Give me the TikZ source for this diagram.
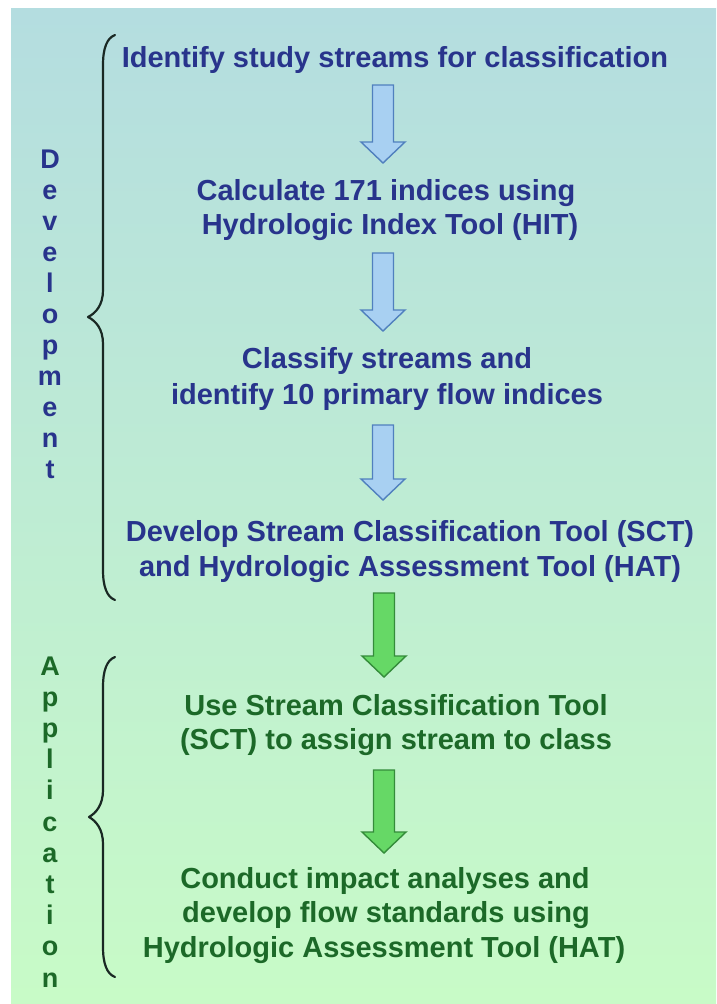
\documentclass[tikz,border=0pt]{standalone}
\usepackage{fontspec}
\setmainfont{Liberation Sans}
\usetikzlibrary{calc}

\definecolor{bgtop}{RGB}{180,221,224}
\definecolor{bgbot}{RGB}{200,251,199}
\definecolor{devtext}{RGB}{40,52,140}
\definecolor{apptext}{RGB}{28,105,40}
\definecolor{bluefill}{RGB}{168,208,242}
\definecolor{blueedge}{RGB}{80,128,190}
\definecolor{greenfill}{RGB}{102,216,102}
\definecolor{greenedge}{RGB}{52,140,58}
\definecolor{bracecol}{RGB}{25,40,35}

% block arrow from a start coordinate down to a tip coordinate
\newcommand\blockarrow[3]{%
  \path[#1] let \p1=(#2), \p2=(#3) in
    (\x1-10.5pt,\y1) -- (\x1+10.5pt,\y1) -- (\x1+10.5pt,\y2+21pt)
    -- (\x1+22pt,\y2+21pt) -- (\x2,\y2) -- (\x1-22pt,\y2+21pt)
    -- (\x1-10.5pt,\y2+21pt) -- cycle;}

\begin{document}
\begin{tikzpicture}[x=1pt,y=-1pt,
  steptext/.style={font=\bfseries\fontsize{29}{35}\selectfont, inner sep=0pt, anchor=base},
  devline/.style={steptext, text=devtext},
  appline/.style={steptext, text=apptext},
  sideletter/.style={font=\bfseries\fontsize{27}{31}\selectfont, inner sep=0pt, anchor=base},
  bracepath/.style={draw=bracecol, line width=2.2pt, line cap=round, line join=round},
  bluearrow/.style={fill=bluefill, draw=blueedge, line width=1.4pt, line join=miter},
  greenarrow/.style={fill=greenfill, draw=greenedge, line width=1.4pt, line join=miter}]

% page and gradient background
\fill[white] (0,0) rectangle (716,1004);
\useasboundingbox (0,0) rectangle (716,1004);
\fill[top color=bgtop, bottom color=bgbot] (11,8) rectangle (716,1004);

% development steps
\node[devline] (s1)  at (395,67)  {Identify study streams for classification};
\node[devline] (s2a) at (386,200) {Calculate 171 indices using};
\node[devline] (s2b) at (390,234) {Hydrologic Index Tool (HIT)};
\node[devline] (s3a) at (387,368) {Classify streams and};
\node[devline] (s3b) at (387,404) {identify 10 primary flow indices};
\node[devline] (s4a) at (410,541) {Develop Stream Classification Tool (SCT)};
\node[devline] (s4b) at (410,576) {and Hydrologic Assessment Tool (HAT)};

% application steps
\node[appline] (s5a) at (396,715) {Use Stream Classification Tool};
\node[appline] (s5b) at (396,749) {(SCT) to assign stream to class};
\node[appline] (s6a) at (385,888) {Conduct impact analyses and};
\node[appline] (s6b) at (386,922) {develop flow standards using};
\node[appline] (s6c) at (384,957) {Hydrologic Assessment Tool (HAT)};

% arrow end points
\coordinate (a1s) at (383,85);  \coordinate (a1e) at (383,163);
\coordinate (a2s) at (383,253); \coordinate (a2e) at (383,331);
\coordinate (a3s) at (383,425); \coordinate (a3e) at (383,500);
\coordinate (g1s) at (384,593); \coordinate (g1e) at (384,677);
\coordinate (g2s) at (384,770); \coordinate (g2e) at (384,853);

\blockarrow{bluearrow}{a1s}{a1e}
\blockarrow{bluearrow}{a2s}{a2e}
\blockarrow{bluearrow}{a3s}{a3e}
\blockarrow{greenarrow}{g1s}{g1e}
\blockarrow{greenarrow}{g2s}{g2e}

% vertical phase labels
\foreach \ch [count=\i] in {D,e,v,e,l,o,p,m,e,n,t}
  \node[sideletter, text=devtext] (dev\i) at (50,{168+31*(\i-1)}) {\ch};
\foreach \ch [count=\i] in {A,p,p,l,i,c,a,t,i,o,n}
  \node[sideletter, text=apptext] (app\i) at (50,{675+31.2*(\i-1)}) {\ch};

% curly braces
\draw[bracepath] (115,35) .. controls (107,38) and (103,48) .. (103,65)
  -- (103,290) .. controls (103,305) and (96,313) .. (88,317)
  .. controls (96,321) and (103,329) .. (103,344)
  -- (103,570) .. controls (103,587) and (107,597) .. (115,600);
\draw[bracepath] (115,657) .. controls (107,660) and (103,670) .. (103,687)
  -- (103,790) .. controls (103,805) and (96,813) .. (89,817)
  .. controls (96,821) and (103,829) .. (103,844)
  -- (103,947) .. controls (103,964) and (107,974) .. (115,977);
\end{tikzpicture}
\end{document}
